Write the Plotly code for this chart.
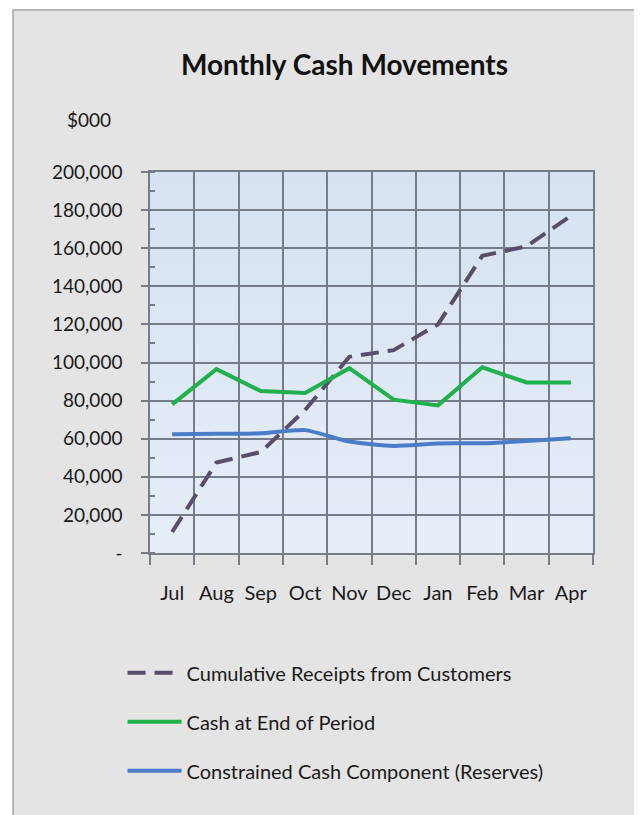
import plotly.graph_objects as go

months = ["Jul", "Aug", "Sep", "Oct", "Nov", "Dec", "Jan", "Feb", "Mar", "Apr"]
receipts = [11000, 47500, 53000, 75000, 103000, 106500, 120000, 156000, 161000, 177000]
cash_end = [78000, 96500, 85000, 84000, 97000, 80500, 77500, 97500, 89500, 89500]
reserves = [62300, 62600, 62800, 64500, 58500, 56200, 57500, 57600, 58800, 60300]

y_tickvals = [0, 20000, 40000, 60000, 80000, 100000, 120000, 140000, 160000, 180000, 200000]
y_ticktext = ["-", "20,000", "40,000", "60,000", "80,000", "100,000", "120,000",
              "140,000", "160,000", "180,000", "200,000"]

FONT = "Lato, Open Sans, sans-serif"
GRID = "#767c88"
TXT = "#1a1a1a"

fig = go.Figure()
fig.add_trace(go.Scatter(x=months, y=receipts, mode="lines", name="Cumulative Receipts from Customers",
                         line=dict(color="#5a4d6c", width=4, dash="18px,9px"), legendgroup="a"))
fig.add_trace(go.Scatter(x=months, y=cash_end, mode="lines", name="Cash at End of Period",
                         line=dict(color="#1fb24c", width=4), legendgroup="b"))
fig.add_trace(go.Scatter(x=months, y=reserves, mode="lines", name="Constrained Cash Component (Reserves)",
                         line=dict(color="#4a7cc8", width=4, shape="spline", smoothing=0.6), legendgroup="c"))

shapes = [dict(type="rect", xref="paper", yref="paper", x0=-0.309, x1=1.099, y0=-0.75, y1=1.425,
               fillcolor="#e4e4e4", line=dict(color="#b4b4b4", width=2), layer="below")]
# vertical gradient for plot background
n = 24
top = (214, 226, 242)
bot = (230, 237, 247)
for i in range(n):
    t = i / (n - 1)
    c = tuple(int(round(top[k] + (bot[k] - top[k]) * t)) for k in range(3))
    shapes.append(dict(type="rect", xref="x domain", yref="y domain", x0=0, x1=1,
                       y0=1 - (i + 1) / n, y1=1 - i / n + 0.001,
                       fillcolor="rgb(%d,%d,%d)" % c, line=dict(width=0), layer="below"))

fig.update_layout(
    width=634, height=807,
    margin=dict(l=142, r=49, t=164, b=262),
    paper_bgcolor="white", plot_bgcolor="#dde7f4",
    font=dict(family=FONT, color=TXT),
    shapes=shapes,
    showlegend=True,
    legend=dict(x=-0.062, y=-0.263, xanchor="left", yanchor="top", bgcolor="rgba(0,0,0,0)",
                font=dict(family=FONT, size=20, color=TXT), tracegroupgap=20,
                traceorder="grouped", itemwidth=54),
    annotations=[
        dict(text="<b>Monthly Cash Movements</b>", xref="paper", yref="paper", x=0.440, y=1.283,
             xanchor="center", yanchor="middle", showarrow=False,
             font=dict(family=FONT, size=28, color="#111111")),
        dict(text="$000", xref="paper", yref="paper", x=-0.138, y=1.139,
             xanchor="center", yanchor="middle", showarrow=False,
             font=dict(family=FONT, size=19, color=TXT)),
    ],
)

fig.update_xaxes(
    type="category", range=[-0.5, 9.5], tickson="boundaries",
    showgrid=True, gridcolor=GRID, gridwidth=1.5,
    showline=True, linecolor=GRID, linewidth=1.5, mirror=True,
    ticks="outside", ticklen=10, tickcolor=GRID, tickwidth=1.5, tickangle=0,
    tickfont=dict(family=FONT, size=20, color=TXT), ticklabelstandoff=21,
)
fig.update_yaxes(
    range=[0, 200000], tickvals=y_tickvals, ticktext=y_ticktext,
    showgrid=True, gridcolor=GRID, gridwidth=1.5,
    showline=True, linecolor=GRID, linewidth=1.5, mirror=True,
    ticks="outside", ticklen=7, tickcolor=GRID, tickwidth=1.5,
    tickfont=dict(family=FONT, size=19, color=TXT), ticklabelstandoff=15,
    minor=dict(ticks="inside", ticklen=5, tickcolor=GRID, dtick=10000, tick0=0, showgrid=False),
    zeroline=False,
)

fig.write_html("out.html")
